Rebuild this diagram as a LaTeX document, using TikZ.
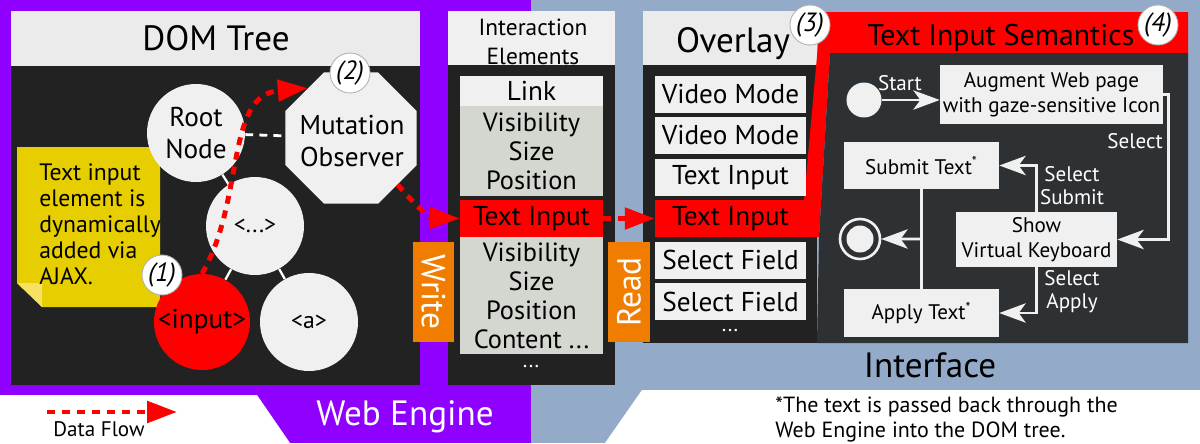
\documentclass[tikz,border=0pt]{standalone}
\usepackage{fontspec}
\setmainfont{PT Sans}
\usepackage{xcolor}
\usepackage{tikz}
\usetikzlibrary{arrows, arrows.meta}
\usetikzlibrary{positioning}
\usetikzlibrary{calc}
\usetikzlibrary{shapes.geometric}
\pgfdeclarelayer{bg}
\pgfsetlayers{bg,main}
\definecolor{engine}{RGB}{143,0,255}
\definecolor{iface}{RGB}{148,170,201}
\definecolor{panel}{RGB}{34,34,34}
\definecolor{semdark}{RGB}{46,49,51}
\definecolor{head}{RGB}{235,235,235}
\definecolor{light}{RGB}{240,240,240}
\definecolor{prop}{RGB}{212,214,208}
\definecolor{tagorange}{RGB}{240,125,0}
\definecolor{note}{RGB}{230,206,0}
\definecolor{notefold}{RGB}{246,226,96}

\begin{document}
\begin{tikzpicture}[x=0.02cm, y=-0.02cm, every node/.style={inner sep=0pt},
		big/.style={font=\fontsize{20}{24}\selectfont},
		disc/.style={circle, fill=light, minimum size=1.96cm, align=center, font=\fontsize{15.5}{18}\selectfont},
		num/.style={circle, fill=white, draw=gray!60, line width=0.5pt, minimum size=0.8cm, font=\fontsize{15}{16}\selectfont\itshape},
		elem/.style={minimum width=2.86cm, minimum height=0.6cm, align=center, font=\fontsize{15}{16.5}\selectfont},
		ovitem/.style={fill=light, minimum width=3.02cm, minimum height=0.74cm, font=\fontsize{15.5}{17}\selectfont},
		tag/.style={fill=tagorange, text=white, minimum width=2cm, minimum height=0.83cm, font=\fontsize{19}{20}\selectfont},
		state/.style={fill=light, align=center, font=\fontsize{12}{14}\selectfont},
		slabel/.style={text=white, align=center, font=\fontsize{12}{13}\selectfont},
		flow/.style={draw=red, line width=2.8pt, dash pattern=on 4.5pt off 4pt, -{Triangle[length=17pt,width=12pt]}},
		sline/.style={draw=light, line width=1.5pt},
		sarrow/.style={sline, -{Stealth[length=15pt,width=11pt,inset=4pt]}}]
	\useasboundingbox (0,0) rectangle (1200,443);
	\begin{pgfonlayer}{bg}
		\fill[engine] (0,0) rectangle (531,443);
		\fill[iface] (531,0) rectangle (1200,443);
		\fill[white] (0,395) -- (257,395) -- (290,443) -- (0,443) -- cycle;
		\fill[white] (642,390) -- (1200,390) -- (1200,443) -- (605,443) -- cycle;
		\fill[panel] (11,66) rectangle (420,385);
		\fill[head] (11,11) rectangle (420,66);
		\fill[panel] (448,65) rectangle (615,385);
		\fill[light] (448,11) rectangle (615,65);
		\fill[panel] (643,65) rectangle (817,343);
		\fill[head] (643,11) rectangle (817,65);
		\fill[red] (804,237) -- (804,200) -- (821,12) -- (1188,12) -- (1188,53) -- (830,53) -- (819,237) -- cycle;
		\fill[semdark] (830,53) -- (1188,53) -- (1188,343) -- (817,343) -- (819,237) -- cycle;
	\end{pgfonlayer}

	\node[big, anchor=base] (domlbl) at (216,50) {DOM Tree};
	\node[align=center, font=\fontsize{13.3}{16.6}\selectfont] (ielbl) at (533,42) {Interaction\\Elements};
	\node[big, anchor=base] (ovlbl) at (733,52) {Overlay};
	\node[anchor=base, font=\fontsize{17}{20}\selectfont] (semlbl) at (1001,45) {Text Input Semantics};
	\node[big, anchor=base] (iflbl) at (930,377) {Interface};
	\node[big, anchor=base, text=white] (welbl) at (405,425) {Web Engine};

	\fill[note] (17,147) -- (160,147) -- (160,307) -- (42,307) -- (17,283) -- cycle;
	\fill[notefold] (17,283) -- (42,283) -- (42,307) -- cycle;
	\node[anchor=west, align=left, font=\fontsize{13.5}{14.8}\selectfont] (notetxt) at (39,224) {Text input\\element is\\dynamically\\added via\\AJAX.};

	\node[disc] (root) at (196,133) {Root\\Node};
	\node[disc] (dots) at (255,226) {\fontsize{13.5}{15}\selectfont<...>};
	\node[disc, fill=red, minimum size=1.92cm] (inp) at (202,322) {<input>};
	\node[disc] (anode) at (309,322) {\fontsize{13.5}{15}\selectfont<a>};
	\node[regular polygon, regular polygon sides=8, fill=light, minimum size=2.84cm] (mut) at (351,138) {};
	\node[align=center, font=\fontsize{15.5}{18}\selectfont] (mutlbl) at (352,141) {Mutation\\Observer};
	\begin{pgfonlayer}{bg}
		\draw[-, white, line width=1.3pt] (root) -- (dots);
		\draw[-, white, line width=1.3pt] (dots) -- (inp);
		\draw[-, white, line width=1.3pt] (dots) -- (anode);
	\end{pgfonlayer}
	\draw[-, white, line width=1.6pt, dash pattern=on 4.5pt off 3.5pt] (root) -- (mut);

	\node[elem, fill=light, font=\fontsize{15.5}{17}\selectfont] (link) at (531.5,91) {Link};
	\node[elem, fill=prop, minimum height=1.8cm] (prop1) at (531.5,151) {Visibility\\Size\\Position};
	\node[elem, fill=red, minimum height=0.74cm, font=\fontsize{15.5}{17}\selectfont] (ti1) at (531.5,218.5) {Text Input};
	\node[elem, fill=prop, minimum height=2.34cm] (prop2) at (531.5,295.5) {Visibility\\Size\\Position\\Content ...};
	\node[text=white, font=\fontsize{12}{12}\selectfont] (iedots) at (531,367) {...};

	\foreach \yy/\txt[count=\i] in {94.5/Video Mode, 135.5/Video Mode, 177.5/Text Input, 260/Select Field, 301.5/Select Field}
	{
		\node[ovitem] (ov\i) at (730.5,\yy) {\txt};
	}
	\node[ovitem, fill=red] (ti2) at (730.5,218.5) {Text Input};
	\node[text=white, font=\fontsize{12}{12}\selectfont] (ovdots) at (730,331) {...};

	\node[tag, rotate=-90] (wr) at (433.5,292) {Write};
	\node[tag, rotate=90] (rd) at (629,292) {Read};

	\draw[flow] (inp.north) .. controls (245,200) and (225,95) .. (mut.131);
	\draw[flow] (mut.-45) .. controls (415,205) and (430,218) .. (ti1.west);
	\draw[flow] (ti1.east) -- (ti2.west);

	\node[circle, fill=light, minimum size=0.7cm] (start) at (864,100) {};
	\node[state, minimum width=4.46cm, minimum height=1.18cm] (aug) at (1051.5,94.5) {Augment Web page\\with gaze-sensitive Icon};
	\node[state, minimum width=3.1cm, minimum height=0.94cm] (submit) at (921.5,165.5) {Submit Text\textsuperscript{*}};
	\node[state, minimum width=3.22cm, minimum height=1.1cm] (show) at (1036.5,239.5) {Show\\Virtual Keyboard};
	\node[state, minimum width=3.1cm, minimum height=0.96cm] (apply) at (921.5,313) {Apply Text\textsuperscript{*}};
	\node[circle, draw=light, line width=1.5pt, minimum size=0.8cm] (final) at (860,239) {};
	\node[circle, fill=light, minimum size=0.54cm] (finalin) at (final) {};
	\coordinate (fork) at ($(submit.south)!0.5!(apply.north)$);

	\node[slabel] (lstart) at (900,83) {Start};
	\node[slabel, anchor=east] (lsel) at (1163,141) {Select};
	\node[slabel] (lsub) at (1072,186) {Select\\Submit};
	\node[slabel] (lapp) at (1072,292) {Select\\Apply};

	\draw[sarrow] (start) -- (start -| aug.west);
	\draw[sarrow] (aug.east) -- ++(5,0) |- (show.east);
	\draw[sarrow] (show.north) |- (submit.east);
	\draw[sarrow] (show.south) |- (apply.east);
	\draw[sline] (submit) -- (apply);
	\draw[sarrow] (fork) -- (final);

	\foreach \xx/\yy/\lbl in {162/275/1, 350/73/2, 810/25/3, 1158/25/4}
	{
		\node[num] (n\lbl) at (\xx,\yy) {(\lbl)};
	}

	\coordinate (leg1) at (47,412);
	\coordinate (leg2) at (177,412);
	\draw[flow] (leg1) -- (leg2);
	\node[font=\fontsize{12}{13}\selectfont] (leglbl) at (99,429) {Data Flow};
	\node[anchor=west, align=left, font=\fontsize{12.5}{14.2}\selectfont] (foot) at (775,419) {*The text is passed back through the\\Web Engine into the DOM tree.};
\end{tikzpicture}
\end{document}
